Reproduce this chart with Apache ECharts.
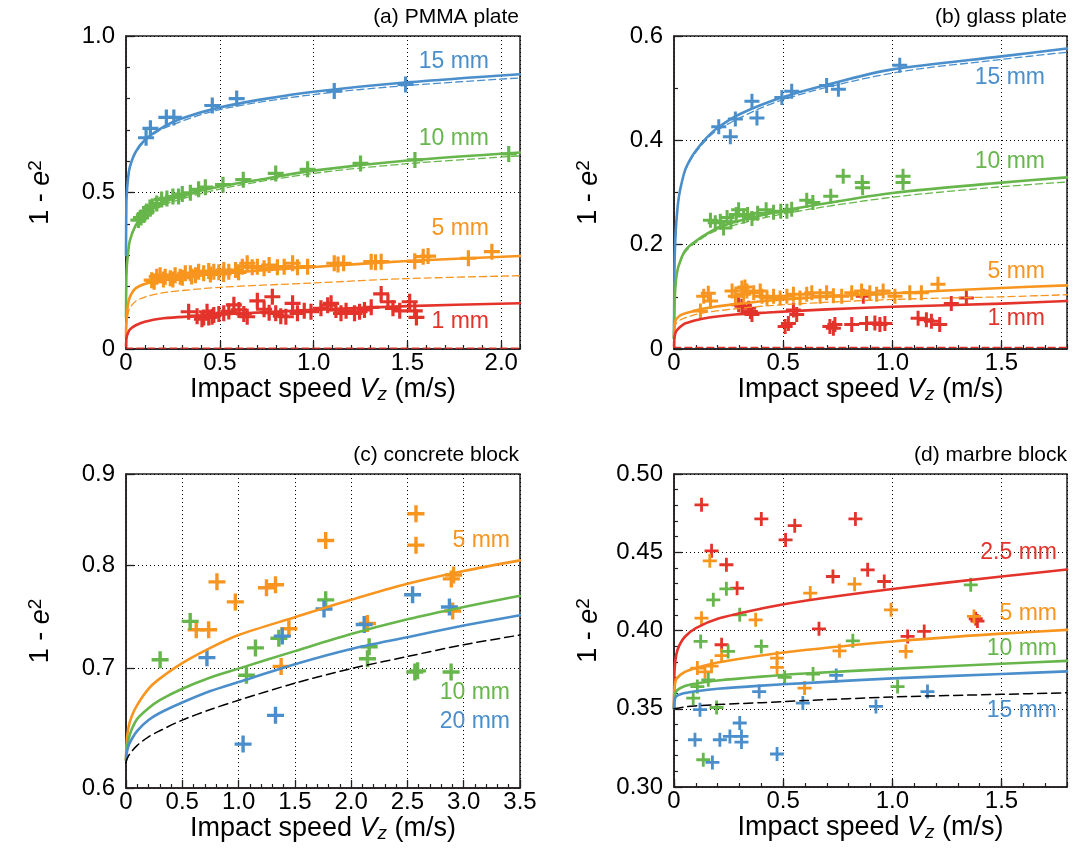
<!DOCTYPE html>
<html><head><meta charset="utf-8">
<script src="https://cdn.jsdelivr.net/npm/echarts@6/dist/echarts.min.js"></script>
<style>html,body{margin:0;padding:0;background:#fff}#c{width:1077px;height:866px}</style>
</head><body><div id="c"></div>
<script>
// ---------- (a) PMMA plate ----------
const pmma15Pts = [[0.107,0.675],[0.13,0.705],[0.215,0.74],[0.255,0.74],[0.46,0.778],[0.59,0.8],[1.11,0.824],[1.49,0.845]];
const pmma10Pts = [[0.066,0.412],[0.08,0.42],[0.095,0.428],[0.11,0.439],[0.128,0.452],[0.14,0.455],[0.164,0.465],[0.19,0.478],[0.218,0.481],[0.25,0.487],[0.28,0.487],[0.3,0.495],[0.343,0.499],[0.387,0.51],[0.423,0.517],[0.517,0.525],[0.625,0.541],[0.798,0.561],[0.968,0.574],[1.25,0.593],[1.54,0.604],[2.04,0.623]];
const pmma5Pts = [[0.137,0.22],[0.15,0.215],[0.164,0.231],[0.182,0.236],[0.2,0.222],[0.209,0.231],[0.236,0.226],[0.25,0.222],[0.262,0.236],[0.289,0.231],[0.3,0.228],[0.316,0.242],[0.343,0.242],[0.35,0.232],[0.37,0.236],[0.387,0.247],[0.414,0.242],[0.441,0.249],[0.45,0.238],[0.468,0.247],[0.495,0.245],[0.52,0.24],[0.521,0.252],[0.548,0.247],[0.584,0.252],[0.6,0.245],[0.62,0.263],[0.646,0.274],[0.673,0.261],[0.7,0.263],[0.736,0.258],[0.763,0.268],[0.807,0.261],[0.843,0.263],[0.888,0.274],[0.914,0.261],[0.968,0.263],[1.11,0.274],[1.13,0.27],[1.16,0.274],[1.307,0.279],[1.33,0.277],[1.36,0.279],[1.539,0.28],[1.584,0.295],[1.61,0.297],[1.825,0.29],[1.95,0.311]];
const pmma1Pts = [[0.334,0.119],[0.379,0.105],[0.405,0.095],[0.414,0.101],[0.432,0.119],[0.441,0.101],[0.459,0.103],[0.468,0.109],[0.495,0.112],[0.521,0.114],[0.548,0.12],[0.575,0.141],[0.602,0.125],[0.628,0.112],[0.646,0.103],[0.7,0.154],[0.736,0.127],[0.763,0.116],[0.78,0.167],[0.798,0.114],[0.825,0.105],[0.852,0.103],[0.888,0.146],[0.914,0.114],[0.95,0.122],[0.986,0.119],[1.039,0.13],[1.075,0.14],[1.093,0.146],[1.119,0.125],[1.146,0.114],[1.173,0.122],[1.218,0.114],[1.245,0.119],[1.271,0.125],[1.307,0.133],[1.36,0.176],[1.396,0.151],[1.423,0.13],[1.459,0.122],[1.512,0.151],[1.539,0.122],[1.548,0.101]];
const pmma15Fit = [[0,0.3],[0.002,0.47],[0.005,0.505],[0.01,0.54],[0.02,0.58],[0.05,0.628],[0.1,0.668],[0.2,0.71],[0.3,0.737],[0.5,0.772],[0.75,0.8],[1.0,0.822],[1.5,0.852],[2.1,0.878]];
const pmma15Dash = [[0.002,0.47],[0.01,0.54],[0.02,0.578],[0.05,0.625],[0.1,0.664],[0.2,0.705],[0.5,0.765],[1.0,0.813],[1.5,0.842],[2.1,0.866]];
const pmma10Fit = [[0,0.1],[0.002,0.23],[0.005,0.27],[0.01,0.3],[0.02,0.345],[0.05,0.393],[0.1,0.434],[0.2,0.468],[0.3,0.49],[0.5,0.519],[0.75,0.545],[1.0,0.57],[1.5,0.602],[2.1,0.628]];
const pmma10Dash = [[0.002,0.23],[0.01,0.3],[0.02,0.343],[0.05,0.389],[0.1,0.428],[0.2,0.461],[0.5,0.511],[1.0,0.561],[1.5,0.592],[2.1,0.617]];
const pmma5Fit = [[0,0.04],[0.002,0.085],[0.005,0.11],[0.01,0.14],[0.02,0.165],[0.05,0.193],[0.1,0.208],[0.2,0.222],[0.5,0.242],[1.0,0.262],[1.5,0.281],[2.1,0.297]];
const pmma5Dash = [[0.002,0.07],[0.005,0.09],[0.01,0.11],[0.02,0.13],[0.05,0.152],[0.1,0.166],[0.2,0.18],[0.5,0.197],[1.0,0.211],[1.5,0.225],[2.1,0.234]];
const pmma1Fit = [[0,0.01],[0.002,0.03],[0.005,0.042],[0.01,0.05],[0.02,0.062],[0.05,0.075],[0.1,0.087],[0.2,0.098],[0.5,0.11],[1.0,0.125],[1.5,0.137],[2.1,0.146]];
const pmma1Dash = [[0,0.003],[2.1,0.003]];

// ---------- (b) glass plate ----------
const glass15Pts = [[0.205,0.426],[0.258,0.407],[0.281,0.441],[0.357,0.475],[0.38,0.443],[0.494,0.482],[0.539,0.494],[0.699,0.505],[0.753,0.498],[1.034,0.544]];
const glass10Pts = [[0.167,0.247],[0.189,0.242],[0.212,0.245],[0.227,0.232],[0.243,0.252],[0.261,0.244],[0.285,0.258],[0.296,0.267],[0.319,0.255],[0.337,0.258],[0.357,0.25],[0.383,0.26],[0.422,0.267],[0.456,0.262],[0.489,0.264],[0.517,0.264],[0.539,0.268],[0.608,0.285],[0.636,0.281],[0.718,0.293],[0.775,0.331],[0.862,0.319],[0.864,0.309],[1.049,0.331],[1.049,0.319]];
const glass5Pts = [[0.121,0.073],[0.136,0.101],[0.157,0.107],[0.167,0.092],[0.266,0.111],[0.281,0.101],[0.311,0.117],[0.319,0.105],[0.325,0.119],[0.334,0.111],[0.365,0.108],[0.395,0.111],[0.403,0.101],[0.426,0.098],[0.456,0.101],[0.486,0.098],[0.517,0.101],[0.547,0.105],[0.577,0.098],[0.608,0.105],[0.631,0.108],[0.669,0.101],[0.699,0.108],[0.73,0.102],[0.768,0.101],[0.814,0.108],[0.859,0.111],[0.897,0.108],[0.928,0.105],[0.958,0.111],[1.012,0.101],[1.08,0.108],[1.133,0.108],[1.209,0.124]];
const glass1Pts = [[0.296,0.085],[0.311,0.082],[0.342,0.078],[0.35,0.072],[0.357,0.066],[0.509,0.043],[0.524,0.049],[0.547,0.075],[0.562,0.066],[0.714,0.043],[0.73,0.04],[0.737,0.047],[0.814,0.047],[0.867,0.101],[0.882,0.049],[0.92,0.05],[0.943,0.047],[0.966,0.049],[1.118,0.059],[1.156,0.056],[1.179,0.053],[1.217,0.047],[1.27,0.087],[1.339,0.098]];
const glass15Fit = [[0,0.02],[0.002,0.15],[0.005,0.2],[0.01,0.24],[0.02,0.285],[0.03,0.309],[0.05,0.342],[0.075,0.364],[0.1,0.38],[0.15,0.405],[0.2,0.424],[0.3,0.45],[0.5,0.483],[0.75,0.512],[1.0,0.536],[1.5,0.561],[1.8,0.576]];
const glass15Dash = [[0.002,0.15],[0.01,0.24],[0.02,0.284],[0.05,0.34],[0.1,0.377],[0.2,0.42],[0.5,0.478],[1.0,0.529],[1.5,0.555],[1.8,0.569]];
const glass10Fit = [[0,0.02],[0.002,0.08],[0.005,0.11],[0.01,0.135],[0.02,0.158],[0.05,0.188],[0.1,0.207],[0.2,0.232],[0.3,0.246],[0.5,0.265],[0.75,0.283],[1.0,0.299],[1.5,0.319],[1.8,0.329]];
const glass10Dash = [[0.002,0.08],[0.01,0.133],[0.02,0.156],[0.05,0.185],[0.1,0.204],[0.2,0.228],[0.5,0.259],[1.0,0.291],[1.5,0.311],[1.8,0.32]];
const glass5Fit = [[0,0.02],[0.002,0.045],[0.005,0.052],[0.01,0.057],[0.03,0.065],[0.075,0.071],[0.13,0.077],[0.28,0.086],[0.5,0.095],[1.0,0.107],[1.5,0.117],[1.8,0.122]];
const glass5Dash = [[0.002,0.038],[0.01,0.049],[0.03,0.056],[0.075,0.063],[0.13,0.069],[0.28,0.077],[0.5,0.085],[1.0,0.095],[1.5,0.1],[1.8,0.104]];
const glass1Fit = [[0,0.005],[0.002,0.022],[0.005,0.028],[0.01,0.034],[0.03,0.043],[0.05,0.049],[0.13,0.058],[0.28,0.066],[0.43,0.07],[0.7,0.076],[1.0,0.081],[1.5,0.087],[1.8,0.092]];
const glass1Dash = [[0,0.003],[1.8,0.003]];

// ---------- (c) concrete block ----------
const concrete5Pts = [[0.808,0.783],[0.624,0.736],[0.734,0.736],[0.971,0.763],[1.248,0.777],[1.328,0.78],[1.447,0.737],[1.378,0.702],[1.774,0.826],[2.576,0.855],[2.576,0.821],[2.89,0.786],[2.91,0.79],[2.902,0.754],[2.145,0.742]];
const concrete10Pts = [[0.303,0.708],[0.57,0.744],[1.07,0.694],[1.15,0.719],[1.358,0.728],[1.774,0.765],[2.16,0.72],[2.145,0.709],[2.566,0.697],[2.59,0.698],[2.888,0.697]];
const concrete20Pts = [[0.719,0.71],[1.04,0.635],[1.328,0.659],[1.388,0.73],[1.759,0.756],[2.116,0.741],[2.546,0.77],[2.873,0.758]];
const concrete5Fit = [[0,0.622],[0.005,0.635],[0.02,0.648],[0.05,0.658],[0.1,0.668],[0.2,0.682],[0.3,0.691],[0.5,0.705],[0.75,0.719],[1.0,0.731],[1.5,0.748],[2.0,0.765],[2.5,0.781],[3.0,0.794],[3.5,0.805]];
const concrete10Fit = [[0,0.622],[0.005,0.63],[0.02,0.638],[0.05,0.647],[0.1,0.656],[0.2,0.665],[0.3,0.672],[0.5,0.682],[0.75,0.692],[1.0,0.7],[1.5,0.716],[2.0,0.732],[2.5,0.746],[3.0,0.758],[3.5,0.769]];
const concrete20Fit = [[0,0.622],[0.005,0.627],[0.02,0.633],[0.05,0.639],[0.1,0.646],[0.2,0.655],[0.3,0.661],[0.5,0.67],[0.75,0.68],[1.0,0.688],[1.5,0.704],[2.0,0.718],[2.5,0.729],[3.0,0.74],[3.5,0.75]];
const concreteRef = [[0,0.62],[0.005,0.622],[0.02,0.625],[0.05,0.629],[0.1,0.634],[0.2,0.641],[0.3,0.646],[0.5,0.655],[0.75,0.664],[1.0,0.672],[1.5,0.687],[2.0,0.7],[2.5,0.711],[3.0,0.722],[3.5,0.731]];

// ---------- (d) marbre block ----------
const marble25Pts = [[0.126,0.4803],[0.4,0.4713],[0.511,0.4579],[0.553,0.467],[0.172,0.4509],[0.24,0.442],[0.289,0.427],[0.218,0.3909],[0.664,0.4011],[0.728,0.4345],[0.831,0.4713],[0.887,0.4388],[0.963,0.4313],[1.07,0.3962],[1.146,0.3994],[1.382,0.4075],[1.39,0.406]];
const marble5Pts = [[0.164,0.4445],[0.126,0.4079],[0.374,0.4068],[0.624,0.4239],[0.827,0.4296],[0.218,0.384],[0.107,0.376],[0.142,0.3736],[0.172,0.3772],[0.472,0.3824],[0.472,0.3764],[0.598,0.3632],[0.758,0.387],[0.994,0.4132],[1.062,0.3866],[1.374,0.409]];
const marble10Pts = [[0.24,0.4266],[0.18,0.4196],[0.301,0.41],[0.122,0.393],[0.248,0.3866],[0.4,0.3898],[0.819,0.3934],[0.507,0.37],[0.637,0.3722],[0.157,0.3685],[0.107,0.3642],[0.088,0.3568],[0.195,0.3508],[0.134,0.3174],[1.359,0.4292],[1.024,0.3642]];
const marble15Pts = [[0.119,0.3494],[0.39,0.361],[0.59,0.3536],[0.743,0.3713],[0.925,0.3515],[1.161,0.361],[0.301,0.3409],[0.096,0.3302],[0.21,0.3302],[0.256,0.3323],[0.309,0.3323],[0.309,0.3287],[0.472,0.3211],[0.176,0.3157]];
const marble25Fit = [[0,0.35],[0.001,0.365],[0.003,0.376],[0.011,0.385],[0.026,0.391],[0.05,0.396],[0.1,0.4015],[0.2,0.4075],[0.4,0.414],[0.6,0.419],[1.0,0.4265],[1.5,0.4345],[1.8,0.439]];
const marble5Fit = [[0,0.35],[0.001,0.358],[0.003,0.364],[0.011,0.369],[0.05,0.3735],[0.1,0.376],[0.2,0.3795],[0.4,0.384],[0.6,0.3875],[1.0,0.393],[1.5,0.398],[1.8,0.4004]];
const marble10Fit = [[0,0.35],[0.003,0.358],[0.011,0.3615],[0.05,0.3645],[0.1,0.366],[0.2,0.368],[0.4,0.3705],[0.6,0.3725],[1.0,0.3755],[1.5,0.3788],[1.8,0.3806]];
const marble15Fit = [[0,0.35],[0.003,0.3555],[0.011,0.358],[0.05,0.36],[0.1,0.3612],[0.2,0.3628],[0.4,0.3648],[0.6,0.3664],[1.0,0.3694],[1.5,0.3722],[1.8,0.3739]];
const marbleRef = [[0,0.35],[0.05,0.3512],[0.1,0.3518],[0.2,0.3527],[0.4,0.3539],[0.6,0.3552],[1.0,0.3575],[1.5,0.3592],[1.8,0.3602]];

// tick values of the log axis in (c)
const concreteYTicks = [0.6, 0.7, 0.8, 0.9];

const FONT = '"Liberation Sans", Arial, Helvetica, sans-serif';
const INK = '#231f20';
const C = {blue:'#4a8fcb', green:'#67b64b', orange:'#f7951f', red:'#e3332a'};
const PLUS = 'path://M40,0H60V40H100V60H60V100H40V60H0V40H40Z';
const TICK_FS = 24, NAME_FS = 27;

function fmt1(v){ return v === 0 ? '0' : v.toFixed(1); }
function fmt2(v){ return v.toFixed(2); }

function gridBox(l,t,w,h){ return {left:l, top:t, width:w, height:h, show:true, borderColor:INK, borderWidth:1.5, backgroundColor:'transparent'}; }

const xName = 'Impact speed {i|V}{s|z} (m/s)';
const yName = '1 - {i|e}{p|2}';
const nameRich = {
  i:{fontStyle:'italic', fontSize:NAME_FS, fontFamily:FONT, color:'#000'},
  s:{fontStyle:'italic', fontSize:19, fontFamily:FONT, color:'#000', verticalAlign:'bottom', padding:[11,0,0,0]},
  p:{fontSize:19, fontFamily:FONT, color:'#000', verticalAlign:'top', padding:[0,0,11,0]}
};

function xAxisMain(g, min, max, minorSplit, hideMax){
  return {
    type:'value', gridIndex:g, min:min, max:max, interval:0.5, position:'bottom',
    name:xName, nameLocation:'middle', nameGap:21,
    nameTextStyle:{fontSize:NAME_FS, fontFamily:FONT, color:'#000', rich:nameRich},
    axisLine:{show:true, onZero:false, lineStyle:{color:INK, width:1.5}},
    axisTick:{show:true, inside:true, length:8, lineStyle:{color:INK, width:1.3}},
    minorTick:{show: minorSplit > 0, splitNumber: minorSplit || 5, length:4, lineStyle:{color:INK, width:1.2}},
    axisLabel:{show:true, margin:2, fontSize:TICK_FS, fontFamily:FONT, color:'#000', formatter:fmt1, showMaxLabel: !hideMax, showMinLabel:true},
    splitLine:{show:true, lineStyle:{color:'#000', width:1, type:[1,3]}}
  };
}
function xAxisMinor(g, min, max){
  return {
    type:'value', gridIndex:g, min:min, max:max, interval:0.1, position:'bottom',
    axisLine:{show:false}, axisLabel:{show:false}, splitLine:{show:false},
    axisTick:{show:true, inside:true, length:4, lineStyle:{color:INK, width:1.2}}
  };
}
function yAxisMain(g, min, max, interval, minorSplit, fmt){
  return {
    type:'value', gridIndex:g, min:min, max:max, interval:interval, position:'left',
    name:yName, nameLocation:'middle', nameGap:70, nameRotate:90,
    nameTextStyle:{fontSize:NAME_FS, fontFamily:FONT, color:'#000', rich:nameRich},
    axisLine:{show:true, onZero:false, lineStyle:{color:INK, width:1.5}},
    axisTick:{show:true, inside:true, length:8, lineStyle:{color:INK, width:1.3}},
    minorTick:{show:true, splitNumber:minorSplit, length:4, lineStyle:{color:INK, width:1.2}},
    axisLabel:{show:true, margin:11, fontSize:TICK_FS, fontFamily:FONT, color:'#000', formatter:fmt},
    splitLine:{show:true, lineStyle:{color:'#000', width:1, type:[1,3]}}
  };
}

const concreteY = {
  type:'log', logBase:10, gridIndex:2, min:0.6, max:0.9, position:'left',
  name:yName, nameLocation:'middle', nameGap:70, nameRotate:90,
  nameTextStyle:{fontSize:NAME_FS, fontFamily:FONT, color:'#000', rich:nameRich},
  axisLine:{show:true, onZero:false, lineStyle:{color:INK, width:1.5}},
  axisTick:{show:true, inside:true, length:8, customValues:concreteYTicks, lineStyle:{color:INK, width:1.3}},
  minorTick:{show:false},
  axisLabel:{show:true, margin:11, fontSize:TICK_FS, fontFamily:FONT, color:'#000', customValues:concreteYTicks, formatter:function(v){return Number(v).toFixed(1);}},
  splitLine:{show:true, lineStyle:{color:'#000', width:1, type:[1,3]}}
};

function sc(g, data, color, size){
  return {type:'scatter', xAxisIndex:g, yAxisIndex:g, data:data, symbol:PLUS, symbolSize:size,
    itemStyle:{color:color, opacity:1}, z:3, silent:true};
}
function ln(g, data, color, dash, w){
  return {type:'line', xAxisIndex:g, yAxisIndex:g, data:data, showSymbol:false, symbol:'none',
    smooth:0.3, clip:true,
    lineStyle:{color:color, width:w, type: dash ? dash : 'solid', join:'round', cap:'round'}, z:4, silent:true};
}

const D1 = [7,4];
const series = [
  sc(0,pmma1Pts,C.red,16), sc(0,pmma5Pts,C.orange,16), sc(0,pmma10Pts,C.green,16), sc(0,pmma15Pts,C.blue,16),
  ln(0,pmma15Fit,C.blue,null,2.6), ln(0,pmma15Dash,C.blue,D1,1.3),
  ln(0,pmma10Fit,C.green,null,2.6), ln(0,pmma10Dash,C.green,D1,1.3),
  ln(0,pmma5Fit,C.orange,null,2.6), ln(0,pmma5Dash,C.orange,D1,1.3),
  ln(0,pmma1Fit,C.red,null,2.6), ln(0,pmma1Dash,C.red,D1,1.3),

  sc(1,glass1Pts,C.red,15), sc(1,glass5Pts,C.orange,15), sc(1,glass10Pts,C.green,15), sc(1,glass15Pts,C.blue,15),
  ln(1,glass15Fit,C.blue,null,2.6), ln(1,glass15Dash,C.blue,D1,1.3),
  ln(1,glass10Fit,C.green,null,2.6), ln(1,glass10Dash,C.green,D1,1.3),
  ln(1,glass5Fit,C.orange,null,2.6), ln(1,glass5Dash,C.orange,D1,1.3),
  ln(1,glass1Fit,C.red,null,2.6), ln(1,glass1Dash,C.red,D1,1.3),

  sc(2,concrete5Pts,C.orange,17), sc(2,concrete10Pts,C.green,17), sc(2,concrete20Pts,C.blue,17),
  ln(2,concrete5Fit,C.orange,null,2.6), ln(2,concrete10Fit,C.green,null,2.6), ln(2,concrete20Fit,C.blue,null,2.6),
  ln(2,concreteRef,'#000',[9,5],1.5),

  sc(3,marble25Pts,C.red,14), sc(3,marble5Pts,C.orange,14), sc(3,marble10Pts,C.green,14), sc(3,marble15Pts,C.blue,14),
  ln(3,marble25Fit,C.red,null,2.6), ln(3,marble5Fit,C.orange,null,2.6), ln(3,marble10Fit,C.green,null,2.6), ln(3,marble15Fit,C.blue,null,2.6),
  ln(3,marbleRef,'#000',[9,5],1.5)
];

function txt(x, y, s, color, size){
  return {type:'text', x:x, y:y, silent:true, z:10,
    style:{text:s, fill:color, font: size + 'px ' + FONT, align:'right', verticalAlign:'middle'}};
}

const graphics = [
  txt(519,17,'(a) PMMA plate','#000',21), txt(1067,17,'(b) glass plate','#000',21),
  txt(519,455,'(c) concrete block','#000',21), txt(1067,455,'(d) marbre block','#000',21),
  txt(489,62,'15 mm',C.blue,23), txt(489,139,'10 mm',C.green,23), txt(489,229,'5 mm',C.orange,23), txt(489,322,'1 mm',C.red,23),
  txt(1045,78,'15 mm',C.blue,23), txt(1045,162,'10 mm',C.green,23), txt(1045,272,'5 mm',C.orange,23), txt(1045,319,'1 mm',C.red,23),
  txt(510,541,'5 mm',C.orange,23), txt(510,693,'10 mm',C.green,23), txt(510,722,'20 mm',C.blue,23),
  txt(1057,553,'2.5 mm',C.red,23), txt(1057,614,'5 mm',C.orange,23), txt(1057,649,'10 mm',C.green,23), txt(1057,711,'15 mm',C.blue,23)
];

const chart = echarts.init(document.getElementById('c'), null, {renderer:'canvas'});
chart.setOption({
  animation:false,
  backgroundColor:'#fff',
  textStyle:{fontFamily:FONT},
  grid:[gridBox(126,36,394,313), gridBox(674,36,393,313), gridBox(126,474,394,314), gridBox(674,474,393,313)],
  xAxis:[
    xAxisMain(0,0,2.1,0,true), xAxisMain(1,0,1.8,0,true), xAxisMain(2,0,3.5,5,false), xAxisMain(3,0,1.8,0,true),
    xAxisMinor(0,0,2.1), xAxisMinor(1,0,1.8), xAxisMinor(3,0,1.8)
  ],
  yAxis:[
    yAxisMain(0,0,1,0.5,5,fmt1), yAxisMain(1,0,0.6,0.2,2,fmt1), concreteY, yAxisMain(3,0.3,0.5,0.05,5,fmt2)
  ],
  series:series,
  graphic:graphics
});
</script>
</body></html>
